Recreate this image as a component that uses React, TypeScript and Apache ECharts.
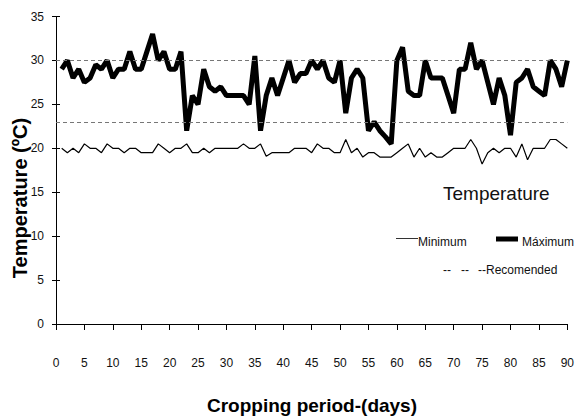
import React, { useEffect, useRef } from "react";
import * as echarts from "echarts";

const days: number[] = Array.from({ length: 90 }, (_, i) => i + 1);

const maxTemp: number[] = [
  29, 30, 28, 29, 27.5, 28, 29.5, 29, 30, 28,
  29, 29, 31, 29, 29, 31, 33, 30, 31, 29,
  29, 31, 22, 26, 25, 29, 27, 26.5, 27, 26,
  26, 26, 26, 25, 30.5, 22, 26, 28, 26, 28,
  30, 27.5, 28.5, 28.5, 30, 29, 30, 28, 27.5, 30,
  24, 28, 29, 28, 22, 23, 22, 21.3, 20.5, 30,
  31.5, 26.5, 26, 26, 30, 28, 28, 28, 26, 24,
  29, 29, 32, 29, 30, 27.5, 25, 28, 26, 21.5,
  27.5, 28, 29, 27, 26.5, 26, 30, 29, 27, 30,
];

const minTemp: number[] = [
  20, 19.5, 20, 19.5, 20.5, 20, 20, 19.5, 20.5, 20,
  20, 19.5, 20, 20, 19.5, 19.5, 19.5, 20.5, 20, 19.5,
  20, 20, 20.5, 19.5, 19.5, 20, 19.5, 20, 20, 20,
  20, 20, 20.5, 20, 20, 20.5, 19.1, 19.5, 19.5, 19.5,
  19.5, 20, 20, 20, 19.5, 20.5, 20, 20, 19.5, 19.5,
  21, 19.5, 20, 19, 19.5, 19.5, 19, 19, 19, 19.5,
  20, 20.5, 19, 20, 19, 19.5, 19, 19, 19.5, 20,
  20, 20, 21, 20, 18.2, 19.5, 20, 19.5, 20, 20,
  19, 20.5, 18.7, 20, 20, 20, 21, 21, 20.5, 20,
];

const recommended: number[] = [30, 23];

const xTicks = { min: 0, max: 90, interval: 5 };
const yTicks = { min: 0, max: 35, interval: 5 };

const FONT = "'Liberation Sans', Arial, sans-serif";

export default function App() {
  const ref = useRef<HTMLDivElement>(null);

  useEffect(() => {
    document.body.style.margin = "0";
    document.body.style.overflow = "hidden";
    if (!ref.current) return;
    const chart = echarts.init(ref.current, undefined, { renderer: "svg" });

    const axisLine = () => ({ show: true, onZero: false, lineStyle: { color: "#000", width: 1 } });

    chart.setOption({
      animation: false,
      backgroundColor: "#fff",
      textStyle: { fontFamily: FONT },
      grid: { left: 56, right: 7, top: 16.5, bottom: 92 },
      xAxis: [
        {
          type: "value",
          position: "bottom",
          min: xTicks.min,
          max: xTicks.max,
          interval: xTicks.interval,
          axisLine: axisLine(),
          splitLine: { show: false },
          axisTick: { show: true, length: 6, lineStyle: { color: "#000" } },
          axisLabel: { show: false },
        },
        {
          type: "value",
          position: "bottom",
          offset: 26,
          min: xTicks.min,
          max: xTicks.max,
          interval: xTicks.interval,
          axisLine: { show: false, onZero: false },
          splitLine: { show: false },
          axisTick: { show: false },
          axisLabel: { show: true, fontSize: 12, color: "#111", margin: 7, fontFamily: FONT },
        },
      ],
      yAxis: [
        {
          type: "value",
          min: yTicks.min,
          max: yTicks.max,
          interval: yTicks.interval,
          axisLine: axisLine(),
          splitLine: { show: false },
          axisTick: { show: true, length: 4, lineStyle: { color: "#000" } },
          axisLabel: { fontSize: 12, color: "#111", margin: 12, fontFamily: FONT },
        },
        {
          type: "value",
          position: "left",
          min: yTicks.min,
          max: yTicks.max,
          interval: yTicks.interval,
          axisLine: axisLine(),
          splitLine: { show: false },
          axisTick: { show: true, inside: true, length: 4, lineStyle: { color: "#000" } },
          axisLabel: { show: false },
        },
      ],
      series: [
        {
          name: "Minimum",
          type: "line",
          xAxisIndex: 0,
          yAxisIndex: 0,
          data: days.map((d, i) => [d, minTemp[i]]),
          symbol: "none",
          lineStyle: { color: "#000", width: 1.2 },
          markLine: {
            silent: true,
            symbol: "none",
            label: { show: false },
            lineStyle: { color: "#777", width: 1, type: [4, 3] },
            data: recommended.map((v) => ({ yAxis: v })),
          },
          z: 3,
        },
        {
          name: "Máximum",
          type: "line",
          xAxisIndex: 0,
          yAxisIndex: 0,
          data: days.map((d, i) => [d, maxTemp[i]]),
          symbol: "none",
          lineStyle: { color: "#000", width: 5 },
          z: 4,
        },
      ],
      graphic: [
        {
          type: "text",
          x: 20,
          y: 198,
          rotation: Math.PI / 2,
          style: {
            text: "Temperature (ºC)",
            fontSize: 20,
            fontWeight: "bold",
            fontFamily: FONT,
            fill: "#000",
            align: "center",
            verticalAlign: "middle",
          },
        },
        {
          type: "text",
          x: 312,
          y: 405,
          style: {
            text: "Cropping period-(days)",
            fontSize: 19,
            fontWeight: "bold",
            fontFamily: FONT,
            fill: "#000",
            align: "center",
            verticalAlign: "middle",
          },
        },
        {
          type: "text",
          x: 443,
          y: 193,
          style: {
            text: "Temperature",
            fontSize: 19,
            fontFamily: FONT,
            fill: "#111",
            align: "left",
            verticalAlign: "middle",
          },
        },
        {
          type: "line",
          shape: { x1: 396, y1: 238.5, x2: 418, y2: 238.5 },
          style: { stroke: "#333", lineWidth: 1 },
        },
        {
          type: "text",
          x: 418,
          y: 242,
          style: {
            text: "Minimum",
            fontSize: 12,
            fontFamily: FONT,
            fill: "#111",
            align: "left",
            verticalAlign: "middle",
          },
        },
        {
          type: "rect",
          shape: { x: 496, y: 236.5, width: 22, height: 5 },
          style: { fill: "#000" },
        },
        {
          type: "text",
          x: 522,
          y: 242,
          style: {
            text: "Máximum",
            fontSize: 12,
            fontFamily: FONT,
            fill: "#111",
            align: "left",
            verticalAlign: "middle",
          },
        },
        {
          type: "text",
          x: 443,
          y: 270,
          style: { text: "--", fontSize: 12, fontFamily: FONT, fill: "#111", verticalAlign: "middle" },
        },
        {
          type: "text",
          x: 461,
          y: 270,
          style: { text: "--", fontSize: 12, fontFamily: FONT, fill: "#111", verticalAlign: "middle" },
        },
        {
          type: "text",
          x: 478,
          y: 270,
          style: { text: "--Recomended", fontSize: 12, fontFamily: FONT, fill: "#111", verticalAlign: "middle" },
        },
      ],
    });

    return () => chart.dispose();
  }, []);

  return (
    <div
      ref={ref}
      style={{ position: "absolute", left: 0, top: 0, width: 577, height: 416 }}
    />
  );
}
